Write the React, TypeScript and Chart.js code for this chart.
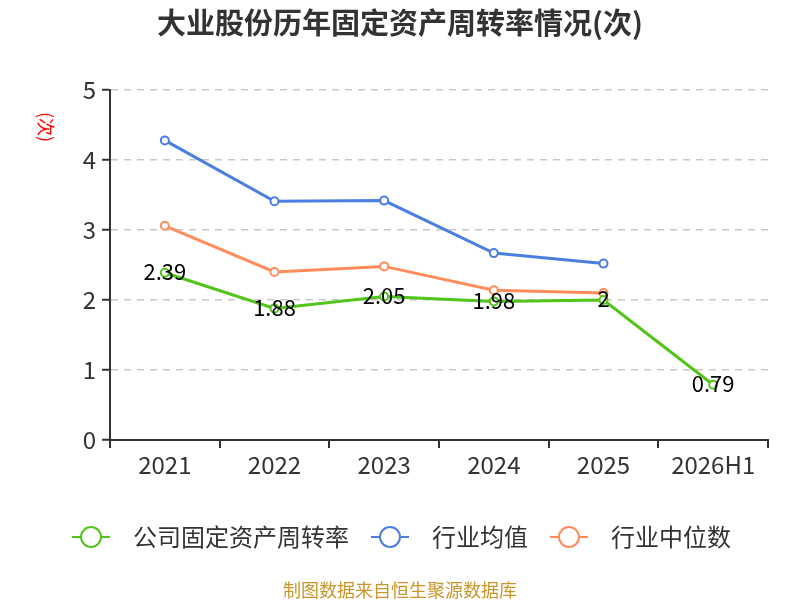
import { useEffect, useRef } from "react";
import { Chart, registerables, type Plugin } from "chart.js";

Chart.register(...registerables);

const categories = ["2021", "2022", "2023", "2024", "2025", "2026H1"];
const companyValues = [2.39, 1.88, 2.05, 1.98, 2, 0.79];
const industryAvg = [4.28, 3.41, 3.42, 2.67, 2.52, null];
const industryMedian = [3.06, 2.4, 2.48, 2.14, 2.1, null];
const seriesNames = ["公司固定资产周转率", "行业均值", "行业中位数"];
const seriesColors = ["#52c41a", "#4a7ee0", "#ff8c5a"];

const FONT = '"Noto Sans CJK SC", "Noto Sans", sans-serif';

const decorPlugin: Plugin = {
  id: "decor",
  afterDraw(chart) {
    const { ctx, width } = chart;
    ctx.save();
    // title
    ctx.fillStyle = "#333";
    ctx.font = `bold 29px ${FONT}`;
    ctx.textAlign = "center";
    ctx.textBaseline = "middle";
    ctx.fillText("大业股份历年固定资产周转率情况(次)", width / 2, 23);

    // y axis name
    ctx.save();
    ctx.translate(46, 127);
    ctx.rotate(Math.PI / 2);
    ctx.fillStyle = "#ff0000";
    ctx.font = `18px ${FONT}`;
    ctx.fillText("(次)", 0, 0);
    ctx.restore();

    // data labels for company series
    const meta = chart.getDatasetMeta(0);
    ctx.fillStyle = "#000";
    ctx.font = `22px ${FONT}`;
    meta.data.forEach((pt, i) => {
      ctx.fillText(String(companyValues[i]), pt.x, pt.y - 1);
    });

    // legend
    ctx.font = `24px ${FONT}`;
    ctx.textAlign = "left";
    const legendY = 537;
    let x = 72;
    seriesNames.forEach((name, i) => {
      ctx.strokeStyle = seriesColors[i];
      ctx.lineWidth = 2;
      ctx.beginPath();
      ctx.moveTo(x, legendY);
      ctx.lineTo(x + 38, legendY);
      ctx.stroke();
      ctx.beginPath();
      ctx.arc(x + 19, legendY, 10, 0, Math.PI * 2);
      ctx.fillStyle = "#fff";
      ctx.fill();
      ctx.stroke();
      ctx.fillStyle = "#333";
      const tx = x + 61;
      ctx.fillText(name, tx, legendY);
      x = tx + ctx.measureText(name).width + 22;
    });

    // source
    ctx.fillStyle = "#c8962a";
    ctx.font = `18px ${FONT}`;
    ctx.textAlign = "center";
    ctx.fillText("制图数据来自恒生聚源数据库", width / 2, 590);
    ctx.restore();
  },
};

const App = () => {
  const canvasRef = useRef<HTMLCanvasElement>(null);

  useEffect(() => {
    document.body.style.margin = "0";
    if (!canvasRef.current) return;
    const mk = (label: string, data: (number | null)[], color: string) => ({
      label,
      data,
      borderColor: color,
      backgroundColor: "#fff",
      borderWidth: 3,
      pointRadius: 4,
      pointBorderWidth: 2,
      pointBackgroundColor: "#fff",
      pointBorderColor: color,
      tension: 0,
    });
    const chart = new Chart(canvasRef.current, {
      type: "line",
      data: {
        labels: categories,
        datasets: [
          mk(seriesNames[0], companyValues, seriesColors[0]),
          mk(seriesNames[1], industryAvg, seriesColors[1]),
          mk(seriesNames[2], industryMedian, seriesColors[2]),
        ],
      },
      options: {
        animation: false,
        responsive: false,
        devicePixelRatio: 1,
        layout: { padding: { top: 90, bottom: 118, left: 0, right: 32 } },
        plugins: {
          legend: { display: false },
          title: { display: false },
          tooltip: { enabled: false },
        },
        scales: {
          x: {
            offset: true,
            afterFit: (scale) => {
              scale.height = 42;
            },
            grid: {
              display: true,
              drawOnChartArea: false,
              offset: true,
              tickLength: 8,
              color: "#333",
              lineWidth: 2,
            },
            border: { color: "#333", width: 2 },
            ticks: { color: "#333", font: { size: 24, family: FONT }, padding: 2 },
          },
          y: {
            min: 0,
            max: 5,
            afterFit: (scale) => {
              scale.width = 110;
            },
            ticks: {
              stepSize: 1,
              color: "#333",
              font: { size: 24, family: FONT },
              padding: 6,
            },
            grid: {
              color: "#c8c8c8",
              lineWidth: 1.5,
              tickLength: 8,
              tickColor: "#333",
              tickWidth: 2,
              drawTicks: true,
            },
            border: { color: "#333", width: 2, dash: [7, 6] },
          },
        },
      },
      plugins: [decorPlugin],
    });
    return () => chart.destroy();
  }, []);

  return <canvas ref={canvasRef} width={800} height={600} style={{ display: "block" }} />;
};

export default App;
